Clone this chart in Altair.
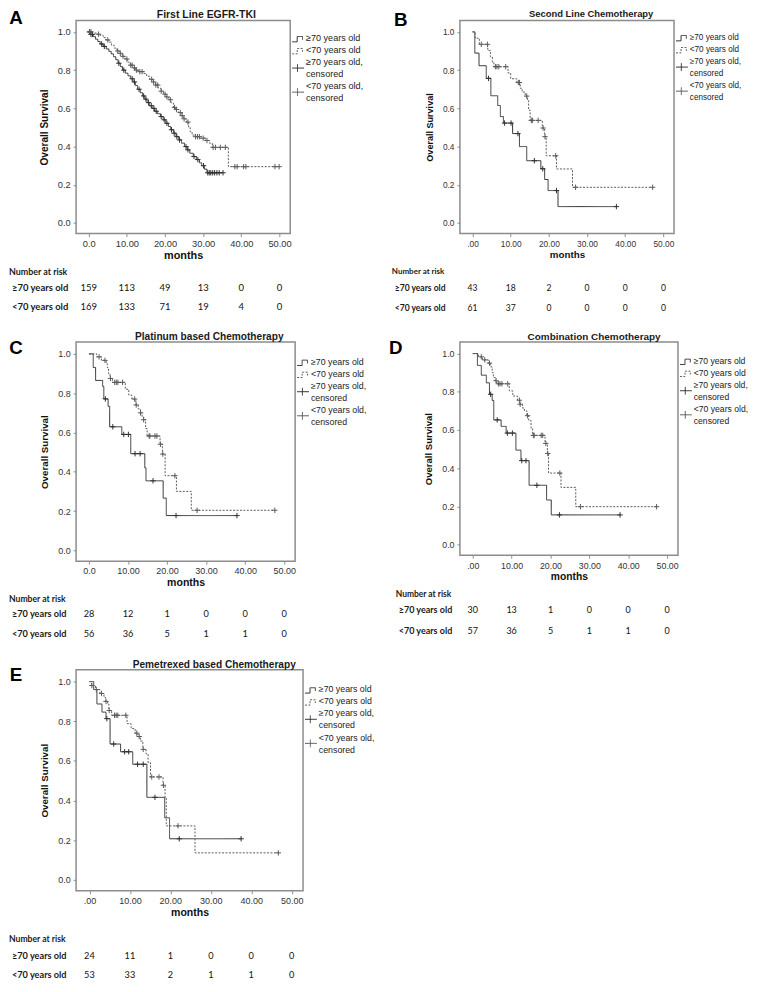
import altair as alt
import numpy as np
import pandas as pd

FONT = "Liberation Sans"
TFONT = "Lato"
OLD = "≥70 years old"
YOUNG = "<70 years old"
MONTH_TICKS = [0, 10, 20, 30, 40, 50]
SURV_TICKS = [0.0, 0.2, 0.4, 0.6, 0.8, 1.0]

# ---------------- Panel A : First Line EGFR-TKI ----------------
A_old_t = [0.0, 0.5, 1.2, 1.8, 2.4, 3.0, 3.8, 4.6, 5.3, 5.9, 6.5, 7.1, 7.7, 8.3, 8.9, 9.6, 10.3, 11.0,
           11.6, 12.2, 12.8, 13.5, 14.1, 14.7, 15.3, 15.9, 16.6, 17.3, 18.0, 18.8, 19.5, 20.2, 20.9,
           21.5, 22.2, 22.9, 23.6, 24.3, 25.1, 25.8, 26.5, 27.4, 28.2, 29.0, 29.6, 30.3, 31.0, 35.2]
A_old_s = [1.000, 0.987, 0.975, 0.962, 0.950, 0.937, 0.924, 0.911, 0.898, 0.885, 0.870, 0.855, 0.836,
           0.818, 0.800, 0.784, 0.770, 0.755, 0.738, 0.720, 0.700, 0.682, 0.665, 0.648, 0.630, 0.614,
           0.600, 0.585, 0.572, 0.557, 0.540, 0.522, 0.505, 0.488, 0.470, 0.452, 0.435, 0.418, 0.400,
           0.383, 0.365, 0.348, 0.332, 0.315, 0.300, 0.282, 0.263, 0.263]
A_old_c = [0.2, 0.6, 1.0, 3.4, 4.1, 7.9, 9.2, 11.4, 12.0, 13.2, 14.4, 15.0, 15.7, 16.4, 17.1, 17.7,
           19.0, 19.8, 20.5, 21.7, 22.4, 23.1, 23.8, 25.5, 26.0, 27.6, 28.6, 30.1, 31.2, 31.6, 32.0,
           32.5, 33.0, 33.6, 34.2, 35.2]
A_young_t = [0.0, 1.0, 2.0, 3.0, 3.8, 4.5, 5.3, 6.0, 6.7, 7.4, 8.1, 8.8, 9.5, 10.2, 10.9, 11.6, 12.3,
             13.0, 14.4, 15.2, 16.0, 16.8, 17.5, 18.2, 18.9, 19.6, 20.3, 21.0, 21.6, 22.2, 22.8, 23.5,
             24.2, 24.9, 25.6, 26.2, 26.6, 27.1, 28.0, 29.2, 30.6, 31.6, 32.4, 36.6, 49.9]
A_young_s = [1.000, 0.994, 0.988, 0.982, 0.970, 0.958, 0.946, 0.930, 0.915, 0.900, 0.888, 0.872,
             0.858, 0.842, 0.826, 0.812, 0.800, 0.792, 0.782, 0.768, 0.752, 0.738, 0.722, 0.706,
             0.690, 0.674, 0.660, 0.645, 0.628, 0.605, 0.594, 0.578, 0.562, 0.545, 0.528, 0.500,
             0.478, 0.460, 0.452, 0.444, 0.432, 0.418, 0.396, 0.295, 0.295]
A_young_c = [0.3, 0.6, 2.6, 5.0, 7.6, 8.3, 9.0, 10.0, 11.0, 11.4, 12.0, 12.5, 13.4, 14.0, 16.5, 17.0,
             17.6, 18.1, 19.0, 20.0, 20.5, 21.4, 22.5, 23.0, 24.0, 24.5, 25.0, 26.0, 28.0, 28.5,
             29.0, 30.0, 31.0, 32.6, 33.2, 34.5, 35.8, 38.3, 38.9, 40.6, 41.2, 48.8, 49.9]
A_risk_old = [159, 113, 49, 13, 0, 0]
A_risk_young = [169, 133, 71, 19, 4, 0]

# ---------------- Panel B : Second Line Chemotherapy ----------------
B_old_t = [0, 0.6, 1.7, 3.6, 4.8, 6.6, 7.3, 8.1, 10.5, 12.3, 14.2, 17.9, 18.9, 19.8, 22.4, 37.7]
B_old_s = [1.0, 0.889, 0.823, 0.757, 0.666, 0.615, 0.557, 0.523, 0.468, 0.400, 0.326, 0.284, 0.228,
           0.170, 0.086, 0.086]
B_old_c = [4.2, 8.4, 10.1, 11.9, 16.2, 18.4, 22.0, 37.7]
B_young_t = [0, 0.7, 1.8, 4.0, 4.7, 5.2, 5.6, 9.3, 10.0, 11.6, 12.5, 13.0, 13.8, 14.4, 14.7, 15.1,
             18.3, 18.9, 19.3, 22.0, 26.2, 47.2]
B_young_s = [1.0, 0.967, 0.935, 0.903, 0.870, 0.840, 0.818, 0.785, 0.755, 0.735, 0.705, 0.685, 0.664,
             0.640, 0.590, 0.537, 0.497, 0.452, 0.352, 0.283, 0.187, 0.187]
B_young_c = [2.3, 3.9, 6.0, 6.4, 6.9, 8.7, 12.0, 12.3, 14.2, 15.4, 15.7, 17.2, 18.5, 19.0, 21.8, 27.0, 47.2]
B_risk_old = [43, 18, 2, 0, 0, 0]
B_risk_young = [61, 37, 0, 0, 0, 0]

# ---------------- Panel C : Platinum based Chemotherapy ----------------
C_old_t = [0, 1.1, 1.7, 3.5, 3.8, 4.9, 5.3, 8.4, 10.7, 14.3, 14.6, 19.0, 19.8, 37.9]
C_old_s = [1.0, 0.931, 0.865, 0.835, 0.771, 0.733, 0.629, 0.590, 0.492, 0.420, 0.354, 0.266, 0.177, 0.177]
C_old_c = [4.2, 6.1, 8.9, 10.1, 11.8, 13.1, 16.4, 22.3, 37.9]
C_young_t = [0, 2.0, 3.2, 4.4, 4.7, 5.0, 5.4, 6.0, 9.3, 10.2, 11.0, 12.0, 12.6, 13.2, 13.6, 14.0, 14.5,
             14.9, 18.2, 18.8, 19.5, 22.4, 26.2, 47.6]
C_young_s = [1.0, 0.985, 0.967, 0.950, 0.930, 0.900, 0.875, 0.855, 0.820, 0.790, 0.770, 0.740, 0.720,
             0.700, 0.680, 0.665, 0.620, 0.582, 0.540, 0.490, 0.380, 0.300, 0.204, 0.204]
C_young_c = [2.6, 4.1, 5.5, 6.6, 7.0, 7.4, 8.6, 11.7, 12.1, 13.2, 14.0, 15.4, 15.6, 16.9, 17.4, 18.3,
             18.9, 22.0, 27.7, 47.6]
C_risk_old = [28, 12, 1, 0, 0, 0]
C_risk_young = [56, 36, 5, 1, 1, 0]

# ---------------- Panel D : Combination Chemotherapy ----------------
D_old_t = [0, 1.2, 2.2, 3.5, 4.3, 5.0, 5.4, 7.3, 8.6, 11.1, 12.4, 14.5, 19.0, 20.2, 37.9]
D_old_s = [1.0, 0.938, 0.887, 0.847, 0.787, 0.755, 0.653, 0.619, 0.584, 0.495, 0.440, 0.311, 0.234,
           0.156, 0.156]
D_old_c = [4.6, 6.3, 8.9, 10.2, 12.6, 13.7, 16.5, 22.3, 37.9]
D_young_t = [0, 1.5, 2.5, 4.0, 4.6, 5.0, 5.3, 5.8, 6.2, 9.4, 10.3, 11.5, 12.1, 12.8, 13.3, 13.9, 14.4,
             15.0, 15.4, 18.6, 19.2, 19.5, 22.7, 26.5, 47.3]
D_young_s = [1.0, 0.983, 0.967, 0.950, 0.930, 0.900, 0.875, 0.858, 0.842, 0.805, 0.778, 0.756, 0.735,
             0.715, 0.700, 0.675, 0.650, 0.607, 0.572, 0.530, 0.477, 0.375, 0.300, 0.199, 0.199]
D_young_c = [2.2, 3.1, 4.3, 6.0, 6.6, 7.0, 7.5, 9.0, 12.0, 12.2, 14.1, 15.6, 15.8, 17.6, 18.0, 18.8,
             19.3, 22.4, 27.7, 47.3]
D_risk_old = [30, 13, 1, 0, 0, 0]
D_risk_young = [57, 36, 5, 1, 1, 0]

# ---------------- Panel E : Pemetrexed based Chemotherapy ----------------
E_old_t = [0, 1.05, 1.85, 3.1, 4.1, 5.1, 7.7, 10.7, 14.2, 18.6, 19.8, 37.5]
E_old_s = [1.0, 0.960, 0.887, 0.846, 0.813, 0.685, 0.646, 0.583, 0.416, 0.313, 0.207, 0.207]
E_old_c = [4.3, 6.0, 8.7, 9.7, 11.9, 13.3, 16.2, 22.2, 37.5]
E_young_t = [0, 0.5, 1.5, 2.6, 3.6, 4.0, 4.5, 4.8, 5.5, 9.3, 10.3, 11.3, 12.0, 12.6, 13.2, 14.0, 14.5,
             15.1, 18.2, 18.7, 19.0, 26.1, 46.7]
E_young_s = [1.0, 0.980, 0.960, 0.940, 0.920, 0.900, 0.887, 0.854, 0.830, 0.788, 0.763, 0.740, 0.723,
             0.700, 0.658, 0.636, 0.590, 0.519, 0.477, 0.416, 0.272, 0.136, 0.136]
E_young_c = [0.6, 1.7, 3.0, 4.1, 4.9, 6.2, 6.6, 7.0, 9.0, 11.7, 12.3, 13.3, 15.4, 17.2, 18.3, 21.9, 46.7]
E_risk_old = [24, 11, 1, 0, 0, 0]
E_risk_young = [53, 33, 2, 1, 1, 0]

PANELS = [
    dict(letter="A", title="First Line EGFR-TKI", zero="0.0",
         old=(A_old_t, A_old_s, A_old_c), young=(A_young_t, A_young_s, A_young_c),
         risk=(A_risk_old, A_risk_young)),
    dict(letter="B", title="Second Line Chemotherapy", zero=".00",
         old=(B_old_t, B_old_s, B_old_c), young=(B_young_t, B_young_s, B_young_c),
         risk=(B_risk_old, B_risk_young)),
    dict(letter="C", title="Platinum based Chemotherapy", zero="0.0",
         old=(C_old_t, C_old_s, C_old_c), young=(C_young_t, C_young_s, C_young_c),
         risk=(C_risk_old, C_risk_young)),
    dict(letter="D", title="Combination Chemotherapy", zero=".00",
         old=(D_old_t, D_old_s, D_old_c), young=(D_young_t, D_young_s, D_young_c),
         risk=(D_risk_old, D_risk_young)),
    dict(letter="E", title="Pemetrexed based Chemotherapy", zero=".00",
         old=(E_old_t, E_old_s, E_old_c), young=(E_young_t, E_young_s, E_young_c),
         risk=(E_risk_old, E_risk_young)),
]

# ---------------- layout / style (pixels) ----------------
LAYOUT = [
    dict(w=217, h=216, k=1.00, lg=14, r0=39, r1=55, r2=74, nx=-68, lx=-65, let=(-61, -2), tx=132, ty=-5),
    dict(w=217, h=216, k=0.90, lg=13, r0=39, r1=55, r2=75, nx=-69, lx=-66, let=(-60, 0), tx=133, ty=-6),
    dict(w=222, h=222, k=0.97, lg=16, r0=38, r1=54, r2=74, nx=-68, lx=-65, let=(-61, 6), tx=135, ty=-5),
    dict(w=221, h=216, k=0.95, lg=15, r0=39, r1=56, r2=77, nx=-65, lx=-62, let=(-65, 6), tx=136, ty=-5),
    dict(w=230, h=224, k=0.97, lg=16, r0=49, r1=66, r2=85, nx=-68, lx=-65, let=(-61, 5), tx=140, ty=-5),
]

PLUS = "M-1,0L1,0M0,-1L0,1"
STEP_ICON = "M-1,0.45L-0.15,0.45L-0.15,-0.45L0.75,-0.45L0.75,0.1"
CENS_ICON = "M-1,0L1,0M-0.1,-0.65L-0.1,0.65"
COLORS = ["#303030", "#5a5a5a"]
DASHES = [[1, 0], [2, 1.5]]
LEGEND_TEXT = "≥70 years old\n<70 years old\n≥70 years old,\ncensored\n<70 years old,\ncensored"
LINE_H = 12.2


def steps_df(t, s, g):
    return pd.DataFrame({"t": t, "s": s, "g": g})


def cens_df(t_steps, s_steps, cens, g):
    idx = np.searchsorted(np.array(t_steps), np.array(cens), side="right") - 1
    return pd.DataFrame({"t": cens, "s": np.array(s_steps)[idx], "g": g})


ONE = pd.DataFrame({"k": [0]})


def txt(x, y, text, size, bold=False, align="left", font=FONT, color="#1a1a1a", baseline="middle"):
    return alt.Chart(ONE).mark_text(
        font=font, fontSize=size, fontWeight="bold" if bold else "normal",
        align=align, baseline=baseline, color=color,
    ).encode(x=alt.value(x), y=alt.value(y), text=alt.value(text))


def panel(d, L):
    w, h, k = L["w"], L["h"], L["k"]
    xs = alt.Scale(domain=[-3.3, 52.8], nice=False, zero=False)
    ys = alt.Scale(domain=[-0.055, 1.06], nice=False, zero=False)
    cs = alt.Scale(domain=[OLD, YOUNG], range=COLORS)
    ds = alt.Scale(domain=[OLD, YOUNG], range=DASHES)
    xaxis = alt.Axis(values=MONTH_TICKS,
                     labelExpr=f"datum.value == 0 ? '{d['zero']}' : format(datum.value, '.2f')",
                     title="months", labelFontSize=9.4 * k, titleFontSize=11 * k,
                     titlePadding=2, labelPadding=3)
    yaxis = alt.Axis(values=SURV_TICKS, format=".1f", title="Overall Survival",
                     labelFontSize=9.4 * k, titleFontSize=10.2 * k, titlePadding=8, labelPadding=3)

    lines_df = pd.concat([steps_df(d["old"][0], d["old"][1], OLD),
                          steps_df(d["young"][0], d["young"][1], YOUNG)])
    c_df = pd.concat([cens_df(d["old"][0], d["old"][1], d["old"][2], OLD),
                      cens_df(d["young"][0], d["young"][1], d["young"][2], YOUNG)])

    lines = alt.Chart(lines_df).mark_line(interpolate="step-after", strokeWidth=1).encode(
        x=alt.X("t:Q", scale=xs, axis=xaxis),
        y=alt.Y("s:Q", scale=ys, axis=yaxis),
        color=alt.Color("g:N", scale=cs, legend=None),
        strokeDash=alt.StrokeDash("g:N", scale=ds, legend=None),
    )
    cens = alt.Chart(c_df).mark_point(shape=PLUS, size=30, filled=False, strokeWidth=1, opacity=1).encode(
        x=alt.X("t:Q", scale=xs),
        y=alt.Y("s:Q", scale=ys),
        color=alt.Color("g:N", scale=cs, legend=None),
    )

    layers = [lines, cens]

    # risk table
    for row, key in ((0, "r1"), (1, "r2")):
        rdf = pd.DataFrame({"t": MONTH_TICKS, "n": d["risk"][row]})
        layers.append(alt.Chart(rdf).mark_text(font=TFONT, fontSize=9.6 * k, color="#111").encode(
            x=alt.X("t:Q", scale=xs), y=alt.value(h + L[key]), text="n:Q"))
        layers.append(txt(L["lx"], h + L[key], OLD if row == 0 else YOUNG, 9.6 * k, bold=True, font=TFONT))
    layers.append(txt(L["nx"], h + L["r0"], "Number at risk", 9.0 * k, bold=True, font=TFONT))

    # title + letter
    layers.append(txt(L["tx"], L["ty"], d["title"], 10.6 * k, bold=True, align="center"))
    layers.append(txt(L["let"][0], L["let"][1], d["letter"], 19, bold=True, align="center", color="#000"))

    # legend
    lg = L["lg"]
    layers.append(alt.Chart(ONE).mark_text(
        font=FONT, fontSize=9.2 * k, align="left", baseline="top", lineBreak="\n",
        lineHeight=LINE_H, color="#222").encode(
        x=alt.value(w + 16), y=alt.value(lg), text=alt.value(LEGEND_TEXT)))
    icons = [(STEP_ICON, 0, 0.0, DASHES[0]), (STEP_ICON, 1, 1.0, DASHES[1]),
             (CENS_ICON, 0, 2.4, DASHES[0]), (CENS_ICON, 1, 4.4, DASHES[0])]
    for path, ci, line_pos, dash in icons:
        layers.append(alt.Chart(ONE).mark_point(
            shape=path, size=144, filled=False, strokeWidth=1, opacity=1,
            color=COLORS[ci], strokeDash=dash).encode(
            x=alt.value(w + 8), y=alt.value(lg + 5 + line_pos * LINE_H)))

    return alt.layer(*layers).properties(width=w, height=h)


charts = [panel(d, L) for d, L in zip(PANELS, LAYOUT)]

chart = alt.concat(
    *charts, columns=2, spacing={"row": 110, "column": 159}, bounds="flush", align="each"
).properties(
    padding={"left": 0, "top": -6, "right": 2, "bottom": 0}
).configure_view(
    stroke="#8c8c8c", strokeWidth=1.5
).configure_axis(
    grid=False, domain=False, ticks=True, tickColor="#8c8c8c", tickSize=3,
    labelFont=FONT, titleFont=FONT, labelColor="#333333", titleColor="#111111",
    titleFontWeight="bold"
)

chart.save("out.html", embed_options={"renderer": "svg", "actions": False})
